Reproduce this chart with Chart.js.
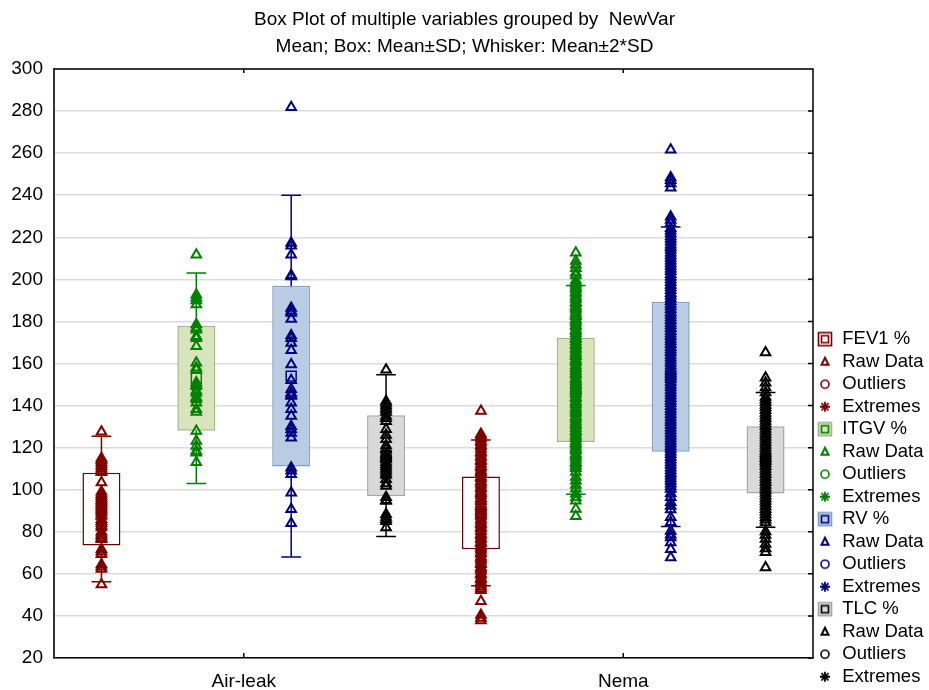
<!DOCTYPE html>
<html>
<head>
<meta charset="utf-8">
<title>Box Plot of multiple variables grouped by NewVar</title>
<script src="https://cdn.jsdelivr.net/npm/chart.js@4.4.0/dist/chart.umd.min.js"></script>
<style>
  html, body { margin: 0; padding: 0; background: #fff; }
  canvas { display: block; }
</style>
</head>
<body>
<canvas id="boxPlot" width="929" height="690"></canvas>
<script>
//--------------------------------------------Data
const categories = ['Air-leak', 'Nema'];
const variables = ['FEV1 %', 'ITGV %', 'RV %', 'TLC %'];
const yMin = 20, yMax = 300, yStep = 20;

// mean and standard deviation per group (Air-leak, Nema)
const fev1Mean = [90.8, 89.0];
const fev1Sd = [17.3, 17.3];
const itgvMean = [153.0, 147.5];
const itgvSd = [25.0, 24.8];
const rvMean = [154.0, 153.7];
const rvSd = [43.0, 35.6];
const tlcMean = [116.2, 114.2];
const tlcSd = [19.2, 16.0];

// raw data
const fev1AirLeak = [127.5, 115, 114, 113, 112, 111, 110, 109, 108.3, 103.4, 99, 98, 97, 96, 95, 94, 93, 92, 91, 90, 89, 88, 87.5, 86, 85, 84, 83, 82, 80, 79, 78, 77, 76.5, 71.7, 70.5, 69.3, 64.5, 63.4, 62.3, 55];
const fev1Nema = [137.4, 126.5, 125.6, 124.3, 123.1, 122.4, 121.2, 120.5, 119.3, 118.1, 117.4, 116.2, 115.3, 114.1, 113.5, 112.3, 111.2, 110.4, 109.1, 108.3, 107.5, 106.2, 105.4, 104.1, 103.3, 102.4, 101.2, 100.5, 99.1, 98.3, 97.4, 96.1, 95.2, 94.5, 93.3, 92.1, 91.4, 90.2, 89.3, 88.1, 87.5, 86.2, 85.3, 84.1, 83.4, 82.2, 81.5, 80.3, 79.1, 78.4, 77.2, 76.3, 75.1, 74.5, 73.2, 72.3, 71.4, 70.2, 69.5, 68.1, 67.3, 66.4, 65.2, 64.6, 63.1, 62.3, 61.5, 60.2, 59.4, 58, 57.3, 56.1, 55.2, 54, 53, 52.2, 47, 40.5, 39, 37.8];
const itgvAirLeak = [211.7, 192.7, 191.2, 190, 188, 178.5, 177, 176, 173, 172, 168.2, 160.3, 158, 157, 151, 150, 149.2, 147, 146, 144, 143, 141.3, 138.2, 137, 127.9, 123.1, 120.8, 118.4, 117.6, 113];
const itgvNema = [212.6, 208.7, 206.9, 205.3, 203.1, 201.8, 199.4, 198.1, 197.3, 196.2, 195.4, 194.1, 193.5, 192.2, 191.3, 190.4, 189.1, 188.5, 187.2, 186.3, 185.4, 184.1, 183.2, 182.5, 181.1, 180.3, 179.4, 178.2, 177.5, 176.1, 175.3, 174.4, 173.2, 172.1, 171.5, 170.3, 169.2, 168.4, 167.1, 166.5, 165.2, 164.3, 163.4, 162.1, 161.3, 160.5, 159.2, 158.1, 157.4, 156.3, 155.2, 154.5, 153.1, 152.3, 151.4, 150.2, 149.5, 148.1, 147.3, 146.2, 145.4, 144.1, 143.5, 142.2, 141.3, 140.4, 139.1, 138.3, 137.2, 136.5, 135.1, 134.3, 133.4, 132.2, 131.1, 130.5, 129.3, 128.2, 127.4, 126.1, 125.3, 124.5, 123.2, 122.1, 121.4, 120.3, 119.2, 118.5, 117.1, 116.3, 115.4, 114.2, 113.1, 112.5, 111.3, 110.2, 108.4, 106.1, 104.3, 102.2, 100.4, 98.1, 96.3, 94.8, 90.8, 87.4];
const rvAirLeak = [281.8, 217.3, 216, 211.7, 202, 201.4, 186.4, 185, 184, 181.2, 173.3, 172, 169.8, 166.3, 159.5, 152, 147.7, 146, 145, 144.5, 141.3, 138.2, 135, 130.2, 128.7, 127, 124.7, 110.5, 109, 107.3, 98.6, 90.7, 84];
const rvNema = [261.6, 248.4, 247.1, 245.6, 243.5, 229.8, 228.2, 226.7, 224.3, 223.1, 221.8, 220.4, 219.2, 217.9, 216.5, 215.3, 214.1, 212.7, 211.4, 210.2, 208.9, 207.5, 206.3, 205.1, 203.8, 202.4, 201.2, 199.9, 198.6, 197.3, 196.1, 194.8, 193.4, 192.2, 190.9, 189.6, 188.3, 187.1, 185.8, 184.4, 183.2, 181.9, 180.6, 179.3, 178.1, 176.8, 175.5, 174.2, 172.9, 171.7, 170.4, 169.1, 167.8, 166.5, 165.3, 164.1, 162.7, 161.4, 160.2, 158.9, 157.6, 156.3, 155.1, 153.8, 152.5, 151.2, 149.9, 148.7, 147.4, 146.1, 144.8, 143.5, 142.3, 141.1, 139.7, 138.4, 137.2, 135.9, 134.6, 133.3, 132.1, 130.8, 129.5, 128.2, 126.9, 125.7, 124.4, 123.1, 121.8, 120.6, 119.3, 118.1, 116.8, 115.5, 114.2, 112.9, 111.7, 110.4, 109.1, 107.8, 106.6, 105.3, 104.1, 102.8, 101.5, 100.3, 98.2, 96.4, 94.1, 92.3, 90.6, 86.9, 84.5, 80.4, 78.6, 77.3, 74.9, 71.7, 67.8];
const tlcAirLeak = [157, 142, 141, 140, 139, 138, 137, 135, 134, 132.6, 128.7, 126, 124, 121, 119.2, 117, 116, 115, 114.4, 113, 112, 111, 110, 109, 108, 107, 105, 103, 101.8, 96.4, 95, 94.6, 88.3, 87, 86, 85, 82];
const tlcNema = [165.2, 153.2, 150.8, 148.6, 146.2, 144.1, 142.8, 141.6, 140.3, 139.1, 137.8, 136.5, 135.2, 134.0, 132.7, 131.4, 130.2, 128.9, 127.6, 126.3, 125.1, 123.8, 122.5, 121.3, 120.0, 118.7, 117.4, 116.2, 114.9, 113.6, 112.4, 111.1, 109.8, 108.5, 107.3, 106.0, 104.7, 103.5, 102.2, 100.9, 99.6, 98.4, 97.1, 95.8, 94.6, 93.3, 92.0, 90.7, 89.5, 88.2, 86.9, 85.7, 84.4, 80.1, 78.5, 76.6, 74.2, 72.1, 70.3, 63];

//--------------------------------------------Variables
const means = [fev1Mean, itgvMean, rvMean, tlcMean];
const sds = [fev1Sd, itgvSd, rvSd, tlcSd];
const raws = [[fev1AirLeak, fev1Nema], [itgvAirLeak, itgvNema], [rvAirLeak, rvNema], [tlcAirLeak, tlcNema]];

const seriesColor = ['#800000', '#008000', '#000080', '#000000'];
const boxFill = ['#ffffff', '#d8e4bc', '#b8cce4', '#d9d9d9'];
const boxBorder = ['#6b0000', '#a3b386', '#859fc4', '#a6a6a6'];
const slotOffset = [-0.375, -0.125, 0.125, 0.375];
const capHalf = 0.026;
const fontFamily = "'Liberation Sans', Arial, sans-serif";

//--------------------------------------------Functions
const xPos = (g, v) => g + 0.5 + slotOffset[v];

function glyph(kind, v) {
    const c = document.createElement('canvas');
    c.width = 16;
    c.height = 16;
    const g = c.getContext('2d');
    g.lineWidth = 1.6;
    g.strokeStyle = seriesColor[v];
    if (kind === 'box') {
        g.fillStyle = boxFill[v];
        g.fillRect(1.5, 1.5, 13, 13);
        g.strokeStyle = boxBorder[v];
        g.strokeRect(1.5, 1.5, 13, 13);
        g.strokeStyle = seriesColor[v];
        g.strokeRect(4.5, 4.5, 7, 7);
    } else if (kind === 'tri') {
        g.lineWidth = 2;
        g.beginPath();
        g.moveTo(8, 4);
        g.lineTo(11.5, 11);
        g.lineTo(4.5, 11);
        g.closePath();
        g.stroke();
    } else if (kind === 'circle') {
        g.beginPath();
        g.arc(8, 8, 4, 0, Math.PI * 2);
        g.stroke();
    } else {
        g.lineWidth = 1.8;
        g.beginPath();
        for (let a = 0; a < 4; a++) {
            const ang = a * Math.PI / 4;
            g.moveTo(8 - Math.sin(ang) * 5, 8 - Math.cos(ang) * 5);
            g.lineTo(8 + Math.sin(ang) * 5, 8 + Math.cos(ang) * 5);
        }
        g.stroke();
    }
    return c;
}

const datasets = [];
variables.forEach((name, v) => {
    const whisker = [];
    categories.forEach((c, g) => {
        const x = xPos(g, v);
        const lo = means[v][g] - 2 * sds[v][g];
        const hi = means[v][g] + 2 * sds[v][g];
        whisker.push({x, y: lo}, {x, y: hi}, {x, y: null},
            {x: x - capHalf, y: hi}, {x: x + capHalf, y: hi}, {x, y: null},
            {x: x - capHalf, y: lo}, {x: x + capHalf, y: lo}, {x, y: null});
    });
    datasets.push({
        type: 'scatter',
        label: name + ' whisker',
        data: whisker,
        showLine: true,
        spanGaps: false,
        borderColor: seriesColor[v],
        borderWidth: 1.5,
        pointRadius: 0,
        order: 3
    });
    datasets.push({
        type: 'bar',
        label: name + ' box',
        data: categories.map((c, g) => ({x: xPos(g, v), y: [means[v][g] - sds[v][g], means[v][g] + sds[v][g]]})),
        backgroundColor: boxFill[v],
        borderColor: boxBorder[v],
        borderWidth: 1.5,
        borderSkipped: false,
        grouped: false,
        categoryPercentage: 1,
        barPercentage: 0.4,
        order: 2
    });
    datasets.push({
        type: 'scatter',
        label: name + ' raw',
        data: raws[v].flatMap((arr, g) => arr.map(y => ({x: xPos(g, v), y}))),
        pointStyle: 'triangle',
        pointRadius: 5.5,
        borderWidth: 2,
        borderColor: seriesColor[v],
        backgroundColor: 'rgba(0,0,0,0)',
        order: 1
    });
    datasets.push({
        type: 'scatter',
        label: name + ' mean',
        data: categories.map((c, g) => ({x: xPos(g, v), y: means[v][g]})),
        pointStyle: 'rect',
        pointRadius: 7,
        borderWidth: 1.5,
        borderColor: seriesColor[v],
        backgroundColor: 'rgba(0,0,0,0)',
        order: 0
    });
});

const legendItems = [];
variables.forEach((name, v) => {
    [[name, 'box'], ['Raw Data', 'tri'], ['Outliers', 'circle'], ['Extremes', 'star']].forEach(([text, kind]) => {
        legendItems.push({text, pointStyle: glyph(kind, v), fillStyle: boxFill[v], strokeStyle: seriesColor[v], lineWidth: 0, hidden: false, fontColor: '#000'});
    });
});

// frame: top / right border plus the inward tick marks
const framePlugin = {
    id: 'frame',
    afterDraw(chart) {
        const {ctx, chartArea: a, scales: {x, y}} = chart;
        ctx.save();
        ctx.strokeStyle = '#000';
        ctx.lineWidth = 1.5;
        ctx.beginPath();
        ctx.moveTo(a.left, a.top);
        ctx.lineTo(a.right, a.top);
        ctx.lineTo(a.right, a.bottom);
        y.ticks.forEach(t => {
            const py = y.getPixelForValue(t.value);
            ctx.moveTo(a.right, py);
            ctx.lineTo(a.right - 5, py);
        });
        categories.forEach((c, g) => {
            const px = x.getPixelForValue(g + 0.5);
            ctx.moveTo(px, a.top);
            ctx.lineTo(px, a.top + 4);
            ctx.moveTo(px, a.bottom);
            ctx.lineTo(px, a.bottom - 5);
        });
        ctx.stroke();
        ctx.restore();
    }
};

//--------------------------------------------Chart
new Chart(document.getElementById('boxPlot'), {
    type: 'scatter',
    data: {datasets},
    plugins: [framePlugin],
    options: {
        responsive: false,
        animation: false,
        events: [],
        layout: {padding: 0},
        font: {family: fontFamily},
        plugins: {
            title: {
                display: true,
                text: ['Box Plot of multiple variables grouped by  NewVar', 'Mean; Box: Mean±SD; Whisker: Mean±2*SD'],
                color: '#000',
                font: {family: fontFamily, size: 19, weight: 'normal', lineHeight: 27 / 19},
                padding: {top: 6, bottom: 9}
            },
            legend: {
                position: 'right',
                align: 'end',
                maxWidth: 116,
                labels: {
                    usePointStyle: true,
                    boxWidth: 16,
                    boxHeight: 16,
                    padding: 4,
                    color: '#000',
                    font: {family: fontFamily, size: 18.5},
                    generateLabels: () => legendItems
                }
            },
            tooltip: {enabled: false}
        },
        scales: {
            x: {
                type: 'linear',
                min: 0,
                max: categories.length,
                offset: false,
                grid: {display: false},
                border: {display: true, color: '#000', width: 1.5},
                afterBuildTicks: axis => { axis.ticks = categories.map((c, g) => ({value: g + 0.5})); },
                afterFit: axis => { axis.height = 32; },
                ticks: {
                    padding: 4,
                    maxRotation: 0,
                    autoSkip: false,
                    color: '#000',
                    font: {family: fontFamily, size: 19},
                    callback: value => categories[Math.round(value - 0.5)]
                }
            },
            y: {
                type: 'linear',
                min: yMin,
                max: yMax,
                grid: {color: '#dcdcdc', lineWidth: 1.5, drawTicks: false},
                border: {display: true, color: '#333', width: 2},
                afterFit: axis => { axis.width = 54; },
                ticks: {
                    stepSize: yStep,
                    padding: 11,
                    color: '#000',
                    font: {family: fontFamily, size: 19}
                }
            }
        }
    }
});
</script>
</body>
</html>
